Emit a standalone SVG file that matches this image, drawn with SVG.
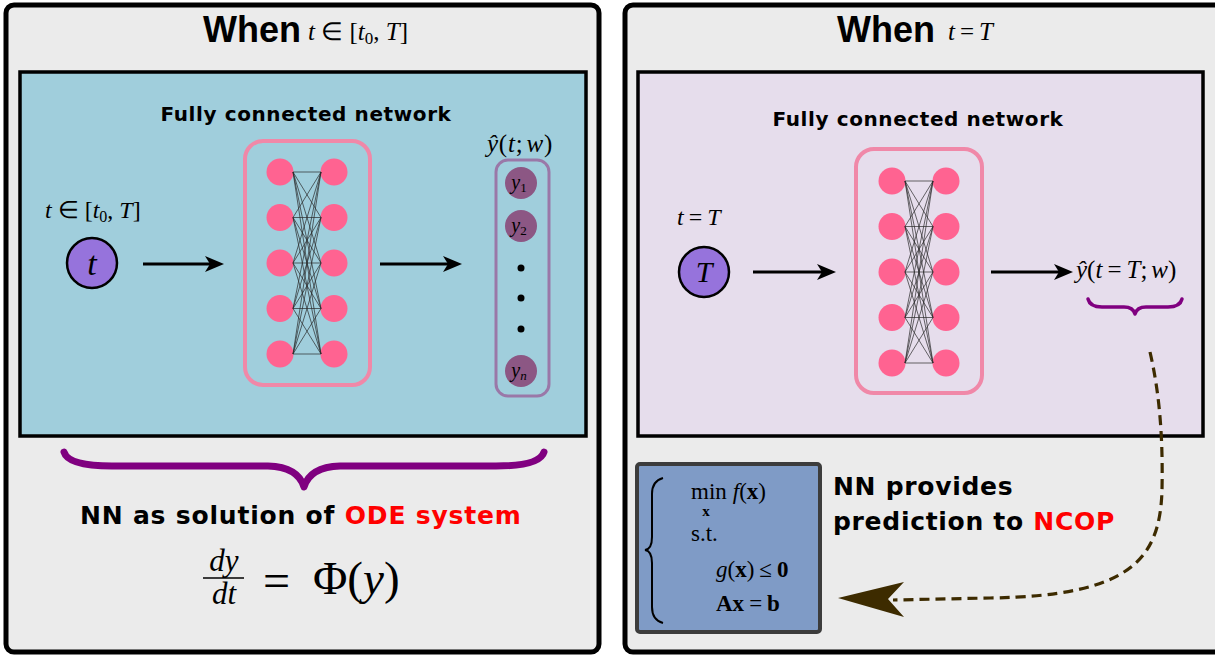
<svg xmlns="http://www.w3.org/2000/svg" width="1215" height="655" viewBox="0 0 1215 655">
<style>
.panel{fill:#ebebeb;stroke:#000;stroke-width:5}
.inner{stroke:#000;stroke-width:3.5}
.title{font-family:"Liberation Sans",Arial,sans-serif;font-weight:bold;font-size:36px;fill:#000}
.math{font-family:"Liberation Serif","Times New Roman",serif;fill:#000}
.it{font-style:italic}
.bold{font-family:"DejaVu Sans",Verdana,sans-serif;font-weight:bold;fill:#000}
.red{fill:#ff0000}
.netbox{fill:none;stroke:#f088a8;stroke-width:4}
.node{fill:#ff6391}
.edge{stroke:#2a2a2a;stroke-width:0.7}
.arrow{stroke:#000;stroke-width:3;fill:none}
.head{fill:#000}
.brace{fill:none;stroke:#800080;stroke-linecap:round;stroke-linejoin:round}
.ynode{fill:#8c5784}
.inp{fill:#9673dc;stroke:#000;stroke-width:2.5}
</style>
<defs>
<g id="net">
<circle class="node" cx="0" cy="0" r="13.5"/><circle class="node" cx="0" cy="45.5" r="13.5"/><circle class="node" cx="0" cy="91" r="13.5"/><circle class="node" cx="0" cy="136.5" r="13.5"/><circle class="node" cx="0" cy="182" r="13.5"/>
<circle class="node" cx="54" cy="0" r="13.5"/><circle class="node" cx="54" cy="45.5" r="13.5"/><circle class="node" cx="54" cy="91" r="13.5"/><circle class="node" cx="54" cy="136.5" r="13.5"/><circle class="node" cx="54" cy="182" r="13.5"/>
<g class="edge">
<line x1="13" y1="0" x2="41" y2="0"/><line x1="13" y1="0" x2="41" y2="45.5"/><line x1="13" y1="0" x2="41" y2="91"/><line x1="13" y1="0" x2="41" y2="136.5"/><line x1="13" y1="0" x2="41" y2="182"/>
<line x1="13" y1="45.5" x2="41" y2="0"/><line x1="13" y1="45.5" x2="41" y2="45.5"/><line x1="13" y1="45.5" x2="41" y2="91"/><line x1="13" y1="45.5" x2="41" y2="136.5"/><line x1="13" y1="45.5" x2="41" y2="182"/>
<line x1="13" y1="91" x2="41" y2="0"/><line x1="13" y1="91" x2="41" y2="45.5"/><line x1="13" y1="91" x2="41" y2="91"/><line x1="13" y1="91" x2="41" y2="136.5"/><line x1="13" y1="91" x2="41" y2="182"/>
<line x1="13" y1="136.5" x2="41" y2="0"/><line x1="13" y1="136.5" x2="41" y2="45.5"/><line x1="13" y1="136.5" x2="41" y2="91"/><line x1="13" y1="136.5" x2="41" y2="136.5"/><line x1="13" y1="136.5" x2="41" y2="182"/>
<line x1="13" y1="182" x2="41" y2="0"/><line x1="13" y1="182" x2="41" y2="45.5"/><line x1="13" y1="182" x2="41" y2="91"/><line x1="13" y1="182" x2="41" y2="136.5"/><line x1="13" y1="182" x2="41" y2="182"/>
</g>
</g>
<path id="ahead" d="M0,0 L-19,-8 L-14,0 L-19,8 Z"/>
</defs>
<rect width="1215" height="655" fill="#ffffff"/>

<g id="panel-left">
<rect class="panel" x="6" y="5" width="593" height="647" rx="8"/>
<text class="title" x="203" y="42">When</text>
<text class="math" x="308" y="40" font-size="25"><tspan class="it">t</tspan> ∈ [<tspan class="it">t</tspan><tspan font-size="17" dy="4">0</tspan><tspan dy="-4">, </tspan><tspan class="it">T</tspan>]</text>
</g>

<g id="panel-right">
<rect class="panel" x="625" y="5" width="600" height="647" rx="8"/>
<text class="title" x="837" y="42">When</text>
<text class="math" x="948" y="40" font-size="25"><tspan class="it">t</tspan><tspan dx="5">=</tspan><tspan class="it" dx="5">T</tspan></text>
</g>

<g id="ode-box">
<rect class="inner" x="20" y="72" width="566" height="364" fill="#a0cedc"/>
<text class="bold" x="306" y="121" font-size="20" letter-spacing="0.6" text-anchor="middle">Fully connected network</text>
</g>

<g id="ncop-stage">
<rect class="inner" x="638" y="72" width="565" height="364" fill="#e6ddec"/>
<text class="bold" x="918" y="126" font-size="20" letter-spacing="0.6" text-anchor="middle">Fully connected network</text>
</g>

<g id="input-t">
<text class="math" x="45" y="218" font-size="24"><tspan class="it">t</tspan> ∈ [<tspan class="it">t</tspan><tspan font-size="16" dy="4">0</tspan><tspan dy="-4">, </tspan><tspan class="it">T</tspan>]</text>
<circle class="inp" cx="92" cy="263" r="25"/>
<text class="math it" x="92" y="275" font-size="34" text-anchor="middle">t</text>
</g>

<g id="network-left">
<rect class="netbox" x="245" y="141" width="125" height="244" rx="18"/>
<use href="#net" x="280" y="172"/>
</g>

<g id="output-vector">
<text class="math" x="520" y="152" font-size="25" letter-spacing="0.8" text-anchor="middle"><tspan class="it">ŷ</tspan>(<tspan class="it">t</tspan>;<tspan class="it" dx="3">w</tspan>)</text>
<rect x="496" y="160" width="53" height="236" rx="12" fill="none" stroke="#9a78a8" stroke-width="3"/>
<circle class="ynode" cx="521" cy="183" r="16"/>
<text class="math it" x="519" y="189" font-size="20" text-anchor="middle">y<tspan font-style="normal" font-size="13" dy="3">1</tspan></text>
<circle class="ynode" cx="521" cy="226" r="16"/>
<text class="math it" x="519" y="232" font-size="20" text-anchor="middle">y<tspan font-style="normal" font-size="13" dy="3">2</tspan></text>
<circle cx="521" cy="268" r="3.5" fill="#000"/>
<circle cx="521" cy="298" r="3.5" fill="#000"/>
<circle cx="521" cy="329" r="3.5" fill="#000"/>
<circle class="ynode" cx="521" cy="371" r="16"/>
<text class="math it" x="519" y="377" font-size="20" text-anchor="middle">y<tspan font-size="13" dy="3">n</tspan></text>
</g>

<g id="ode-caption">
<text class="bold" x="80" y="524" font-size="25" letter-spacing="0.8">NN as solution of <tspan class="red">ODE system</tspan></text>
<text class="math it" x="224" y="571" font-size="31" text-anchor="middle">dy</text>
<line x1="203" y1="578" x2="244" y2="578" stroke="#000" stroke-width="1.6"/>
<text class="math it" x="224" y="604" font-size="31" text-anchor="middle">dt</text>
<text class="math" x="263" y="597" font-size="48">=</text>
<text class="math" x="313" y="594" font-size="47">Φ(<tspan class="it">y</tspan>)</text>
</g>

<g id="input-T">
<text class="math" x="677" y="225" font-size="24"><tspan class="it">t</tspan><tspan dx="5">=</tspan><tspan class="it" dx="5">T</tspan></text>
<circle class="inp" cx="704" cy="272" r="25"/>
<text class="math it" x="704" y="282" font-size="30" text-anchor="middle">T</text>
</g>

<g id="network-right">
<rect class="netbox" x="856" y="149" width="126" height="244" rx="18"/>
<use href="#net" x="892" y="181"/>
</g>

<g id="output-T">
<text class="math" x="1076" y="278" font-size="25" fill="#8b0d0d"><tspan class="it">ŷ</tspan>(<tspan class="it">t</tspan><tspan dx="5">=</tspan><tspan class="it" dx="5">T</tspan>;<tspan class="it" dx="4">w</tspan>)</text>
</g>

<g id="ncop">
<rect x="637" y="464" width="183" height="168" rx="3" fill="#7f9bc6" stroke="#3c3c3c" stroke-width="4"/>
<path d="M663,478 Q652,481 652,494 L652,537 Q652,549 645,550 Q652,551 652,563 L652,607 Q652,620 663,623" fill="none" stroke="#000" stroke-width="2"/>
<text class="math" x="691" y="499" font-size="23"><tspan>min</tspan><tspan class="it" dx="6">f</tspan>(<tspan font-weight="bold">x</tspan>)</text>
<text class="math" x="706" y="516" font-size="15" font-weight="bold" text-anchor="middle">x</text>
<text class="math" x="691" y="541" font-size="23">s.t.</text>
<text class="math" x="716" y="577" font-size="23"><tspan class="it">g</tspan>(<tspan font-weight="bold">x</tspan>)<tspan dx="5">≤</tspan><tspan font-weight="bold" dx="5">0</tspan></text>
<text class="math" x="716" y="611" font-size="23"><tspan font-weight="bold">Ax</tspan><tspan dx="5">=</tspan><tspan font-weight="bold" dx="5">b</tspan></text>
</g>

<g id="ncop-caption">
<text class="bold" x="833" y="495" font-size="25" letter-spacing="0.7">NN provides</text>
<text class="bold" x="833" y="530" font-size="25" letter-spacing="0.7">prediction to <tspan class="red">NCOP</tspan></text>
</g>

<g id="connectors">
<line class="arrow" x1="143" y1="264" x2="212" y2="264"/>
<use href="#ahead" x="224" y="264" class="head"/>
<line class="arrow" x1="380" y1="264" x2="450" y2="264"/>
<use href="#ahead" x="462" y="264" class="head"/>
<line class="arrow" x1="753" y1="272" x2="824" y2="272"/>
<use href="#ahead" x="836" y="272" class="head"/>
<line class="arrow" x1="991" y1="272" x2="1061" y2="272"/>
<use href="#ahead" x="1073" y="272" class="head"/>
<path class="brace" stroke-width="7" d="M64,452 Q68,466 112,466 L268,466 Q298,467 304,487 Q310,467 340,466 L496,466 Q540,466 544,452"/>
<path class="brace" stroke-width="3.5" d="M1088,299 Q1090,307 1102,307 L1124,307 Q1133,307 1135,314 Q1137,307 1146,307 L1168,307 Q1180,307 1182,299"/>
<path d="M1150,352 C1160,395 1163,440 1162,490 C1160,560 1130,596 990,598 L893,600" fill="none" stroke="#3d2b00" stroke-width="3.2" stroke-dasharray="10,6"/>
<path d="M838,598 L904,582 L888,599 L904,617 Z" fill="#3d2b00"/>
</g>
</svg>
